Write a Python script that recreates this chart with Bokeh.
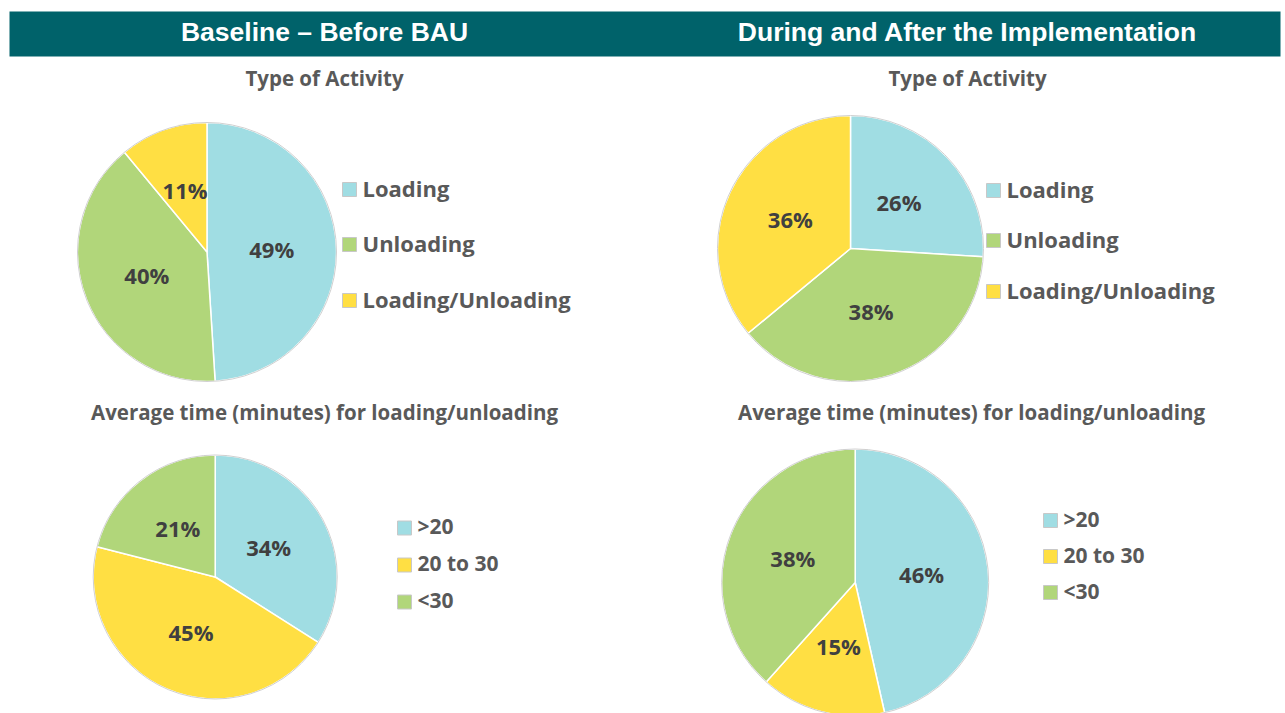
import math
from bokeh.plotting import figure
from bokeh.models import Range1d, ColumnDataSource
from bokeh.core.properties import value
from bokeh.embed import file_html
from bokeh.resources import INLINE

# ---- data ----
panel_titles = ["Baseline \u2013 Before BAU", "During and After the Implementation"]
activity_title = "Type of Activity"
time_title = "Average time (minutes) for loading/unloading"

activity_labels = ["Loading", "Unloading", "Loading/Unloading"]
baseline_activity = [49, 40, 11]
after_activity = [26, 38, 36]

time_labels = [">20", "20 to 30", "<30"]
baseline_time = [34, 45, 21]
after_time = [46, 15, 38]

# ---- styles ----
CYAN = "#A0DDE3"
GREEN = "#B1D67A"
YELLOW = "#FFDF43"
activity_colors = [CYAN, GREEN, YELLOW]
time_colors = [CYAN, YELLOW, GREEN]
TEAL = "#00626A"
GREY_TXT = "#595959"
DARK_TXT = "#404040"

W, H = 1285, 713

p = figure(width=W, height=H, x_range=Range1d(0, W), y_range=Range1d(0, H),
           output_backend="svg", toolbar_location=None, min_border=0)
p.axis.visible = False
p.grid.visible = False
p.outline_line_color = None
p.background_fill_color = "white"
p.border_fill_color = "white"

def Y(y):
    return H - y

# header bar
p.quad(left=[9], right=[1280], top=[Y(11)], bottom=[Y(56)], fill_color=TEAL, line_color=None)
p.text(x=[324, 967], y=[Y(31.5), Y(31.5)], text=panel_titles,
       text_font=value("Liberation Sans"), text_font_style="bold", text_font_size="26.5px",
       text_color="white", text_align="center", text_baseline="middle")

# subtitles
p.text(x=[324, 967], y=[Y(77.5), Y(77.5)], text=[activity_title, activity_title],
       text_font=value("Open Sans"), text_font_style="bold", text_font_size="20.5px",
       text_color=GREY_TXT, text_align="center", text_baseline="middle")
p.text(x=[324, 971], y=[Y(411.5), Y(411.5)], text=[time_title, time_title],
       text_font=value("Open Sans"), text_font_style="bold", text_font_size="20.5px",
       text_color=GREY_TXT, text_align="center", text_baseline="middle")


def pie(vals, colors, cx, cy, r):
    total = float(sum(vals))
    starts, ends, lx, ly, txt = [], [], [], [], []
    cum = 0.0
    for v in vals:
        a0 = math.pi / 2 - 2 * math.pi * cum / total
        cum += v
        a1 = math.pi / 2 - 2 * math.pi * cum / total
        starts.append(a0)
        ends.append(a1)
        mid = (a0 + a1) / 2
        lx.append(cx + 0.5 * r * math.cos(mid))
        ly.append(Y(cy) + 0.5 * r * math.sin(mid) + 1)
        txt.append("%d%%" % v)
    src = ColumnDataSource(dict(x=[cx] * len(vals), y=[Y(cy)] * len(vals),
                                s=starts, e=ends, c=colors))
    p.wedge(x="x", y="y", radius=r, start_angle="s", end_angle="e", direction="clock",
            fill_color="c", line_color="white", line_width=1.5, source=src)
    p.circle(x=[cx], y=[Y(cy)], radius=r, fill_color=None, line_color="#D0D0D0", line_width=1)
    p.text(x=lx, y=ly, text=txt, text_font=value("Open Sans"), text_font_style="bold",
           text_font_size="22px", text_color=DARK_TXT, text_align="center", text_baseline="middle")


def legend(labels, colors, x0, ys, size, fs):
    p.rect(x=[x0 + size / 2] * len(labels), y=[Y(v) for v in ys], width=size, height=size,
           fill_color=colors, line_color="#C8C8C8", line_width=1)
    p.text(x=[x0 + size + 6] * len(labels), y=[Y(v) + 2 for v in ys], text=labels,
           text_font=value("Open Sans"), text_font_style="bold", text_font_size=fs,
           text_color=GREY_TXT, text_align="left", text_baseline="middle")


pie(baseline_activity, activity_colors, 206.5, 251.5, 129.5)
pie(after_activity, activity_colors, 850, 248, 133)
pie(baseline_time, time_colors, 214.7, 576.5, 122)
pie(after_time, time_colors, 854.7, 582, 133.5)

legend(activity_labels, activity_colors, 342, [189, 244, 300], 14, "22px")
legend(activity_labels, activity_colors, 986, [190, 240, 291], 14, "22px")
legend(time_labels, time_colors, 397, [527.5, 564.5, 601.5], 14, "21px")
legend(time_labels, time_colors, 1043, [520, 556, 592], 14, "21px")

open("out.html", "w").write(file_html(p, INLINE))
